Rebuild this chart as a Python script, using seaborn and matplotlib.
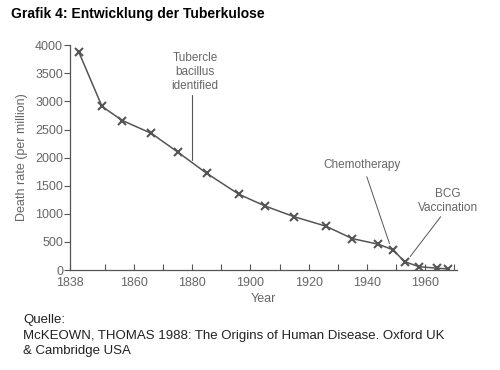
import pandas as pd
import matplotlib
matplotlib.use("Agg")
import matplotlib.pyplot as plt
import seaborn as sns

# -----------------------------------------------------------------------------
# Data
# -----------------------------------------------------------------------------
years = [1841, 1849, 1856, 1866, 1875, 1885, 1896, 1905, 1915, 1926,
         1935, 1944, 1949, 1953, 1958, 1964, 1968]
rates = [3880, 2910, 2660, 2430, 2100, 1720, 1350, 1140, 950, 780,
         560, 460, 360, 150, 60, 35, 20]

tick_years = [1838, 1850, 1860, 1870, 1880, 1890, 1900, 1910, 1920,
              1930, 1940, 1950, 1960, 1970]
tick_labels = ["1838", "", "1860", "", "1880", "", "1900", "", "1920",
               "", "1940", "", "1960", ""]

df = pd.DataFrame({"year": years, "rate": rates})

# -----------------------------------------------------------------------------
# Plotting attributes
# -----------------------------------------------------------------------------
sns.set_theme(style="ticks")
plt.rcParams["font.family"] = ["Liberation Sans", "DejaVu Sans"]

grey = "#555555"
txt = "#666666"

fig = plt.figure(figsize=(5, 3.7), dpi=100)
ax = fig.add_axes([0.14, 0.27, 0.774, 0.608])

sns.lineplot(x="year", y="rate", data=df, ax=ax, color=grey, lw=1.1,
             marker="x", markersize=5.5, markeredgewidth=1.5,
             markeredgecolor=grey, errorbar=None)

ax.set_xlim(1838, 1971)
ax.set_ylim(0, 4000)
ax.set_xticks(tick_years)
ax.set_xticklabels(tick_labels)
ax.set_yticks(range(0, 4001, 500))

ax.tick_params(axis="x", direction="in", length=4, width=0.8, color=grey,
               labelsize=9, labelcolor=txt, pad=5)
ax.tick_params(axis="y", direction="out", length=4, width=0.8, color=grey,
               labelsize=9, labelcolor=txt, pad=1)

for s in ["top", "right"]:
    ax.spines[s].set_visible(False)
for s in ["left", "bottom"]:
    ax.spines[s].set_color(grey)
    ax.spines[s].set_linewidth(0.9)

ax.set_xlabel("Year", fontsize=9, color=txt, labelpad=3)
ax.set_ylabel("Death rate (per million)", fontsize=9, color=txt, labelpad=5)

# Annotations
ax.text(1881, 3170, "Tubercle\nbacillus\nidentified", ha="center", va="bottom",
        fontsize=8.5, color=txt, linespacing=1.2)
ax.plot([1880, 1880], [3110, 1960], color=grey, lw=0.8)

ax.text(1938.5, 1760, "Chemotherapy", ha="center", va="bottom",
        fontsize=8.5, color=txt)
ax.plot([1940, 1947.8], [1660, 470], color=grey, lw=0.7)

ax.text(1968, 1000, "BCG\nVaccination", ha="center", va="bottom",
        fontsize=8.5, color=txt, linespacing=1.2)
ax.plot([1965.4, 1954.9], [950, 240], color=grey, lw=0.7)

# Title and source
fig.text(0.022, 0.962, "Grafik 4: Entwicklung der Tuberkulose", fontsize=10,
         fontweight="bold", color="black", va="center", ha="left")
fig.text(0.046, 0.15, "Quelle:\nMcKEOWN, THOMAS 1988: The Origins of Human Disease. Oxford UK\n& Cambridge USA",
         fontsize=9.5, color="#222222", va="top", ha="left", linespacing=1.35)

plt.savefig("out.png", dpi=100)
